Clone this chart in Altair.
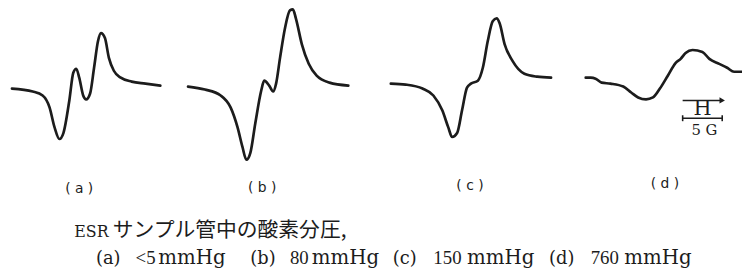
import altair as alt
import pandas as pd

# ESR spectra (field position, signal position)
a_x = [12, 33, 43, 50, 55, 60, 64, 70, 74, 77, 80, 84, 87, 91, 95, 99, 102, 106, 110, 115, 122, 133, 147, 162]
a_y = [88, 91, 95, 107, 127, 139, 133, 100, 72, 68, 77, 95, 99, 93, 67, 40, 32, 37, 57, 70, 77, 81, 83, 85]

b_x = [190, 207, 223, 233, 240, 245, 249, 253, 258, 264, 267, 272, 276, 279, 283, 288, 293, 296, 299, 305, 312, 320, 333, 352]
b_y = [86, 89, 95, 107, 127, 147, 160, 153, 123, 90, 80, 85, 91, 83, 57, 27, 9, 8, 17, 43, 63, 75, 82, 85]

c_x = [395, 410, 427, 438, 447, 453, 457, 462, 467, 472, 476, 483, 488, 493, 498, 502, 505, 510, 518, 530, 543, 557]
c_y = [83, 84, 88, 95, 110, 127, 137, 133, 110, 87, 83, 80, 67, 40, 20, 17, 22, 43, 60, 73, 76, 77]

d_x = [592, 597, 602, 608, 617, 630, 638, 645, 653, 660, 667, 675, 683, 688, 693, 700, 710, 717, 727, 735, 742, 750]
d_y = [77, 77, 78, 82, 83, 86, 92, 97, 99, 97, 88, 75, 62, 58, 52, 49, 51, 58, 63, 67, 71, 71]

panel_labels = ["( a )", "( b )", "( c )", "( d )"]
panel_x = [80, 265, 475, 672]
panel_y = [190, 189, 187, 185]

caption_head = "ESR"
caption_tail = "サンプル管中の酸素分圧,"
cond_labels = ["(a)", "(b)", "(c)", "(d)"]
cond_numbers = ["<5", "80", "150", "760"]
cond_units = ["mmHg", "mmHg", "mmHg", "mmHg"]
cond_label_x = [97, 253, 397, 555]
cond_number_x = [137, 293, 438, 597]
cond_unit_x = [160, 315, 472, 631]

scale_text = "5 G"

W, H = 742, 263
X0, Y0 = 8, 8

rows = []
for name, xs, ys in [("a", a_x, a_y), ("b", b_x, b_y), ("c", c_x, c_y), ("d", d_x, d_y)]:
    for i, (x, y) in enumerate(zip(xs, ys)):
        rows.append({"s": name, "x": x, "y": y, "o": i})
curves = pd.DataFrame(rows)

xs = alt.Scale(domain=[X0, X0 + W], nice=False, zero=False)
ys = alt.Scale(domain=[Y0, Y0 + H], reverse=True, nice=False, zero=False)
X = lambda f: alt.X(f, type="quantitative", scale=xs, axis=None)
Y = lambda f: alt.Y(f, type="quantitative", scale=ys, axis=None)

ink = "#1c1c1c"
serif = "DejaVu Serif"

lines = alt.Chart(curves).mark_line(
    color=ink, strokeWidth=2.7, interpolate="monotone", strokeCap="round", strokeJoin="round"
).encode(x=X("x"), y=Y("y"), detail="s:N", order="o:Q")

plabels = alt.Chart(pd.DataFrame({"t": panel_labels, "x": panel_x, "y": panel_y})).mark_text(
    font="DejaVu Sans", fontSize=14, color=ink, baseline="middle", align="center"
).encode(x=X("x"), y=Y("y"), text="t:N")

cap1 = alt.Chart(pd.DataFrame({"t": [caption_head], "x": [75], "y": [238]})).mark_text(
    font=serif, fontSize=16, color=ink, align="left", baseline="alphabetic"
).encode(x=X("x"), y=Y("y"), text="t:N")

cap2 = alt.Chart(pd.DataFrame({"t": [caption_tail], "x": [114], "y": [238]})).mark_text(
    font="Noto Sans CJK JP", fontSize=21, color=ink, align="left", baseline="alphabetic"
).encode(x=X("x"), y=Y("y"), text="t:N")

def row(texts, xs_, font, size):
    return alt.Chart(pd.DataFrame({"t": texts, "x": xs_, "y": [265] * len(texts)})).mark_text(
        font=font, fontSize=size, color=ink, align="left", baseline="alphabetic"
    ).encode(x=X("x"), y=Y("y"), text="t:N")

cl = row(cond_labels, cond_label_x, serif, 18)
cn = row(cond_numbers, cond_number_x, "Liberation Serif", 19)
cu = row(cond_units, cond_unit_x, serif, 20)

# scale bar
bar_df = pd.DataFrame({"x": [690, 690], "x2": [729, 730], "y": [100, 118]})
bars = alt.Chart(bar_df).mark_rule(color=ink, strokeWidth=1.6).encode(
    x=X("x"), x2="x2", y=Y("y")
)
tick_df = pd.DataFrame({"x": [690, 730], "y": [115, 115], "y2": [121, 121]})
ticks = alt.Chart(tick_df).mark_rule(color=ink, strokeWidth=1.6).encode(
    x=X("x"), y=Y("y"), y2="y2"
)
arrow = alt.Chart(pd.DataFrame({"x": [730], "y": [100]})).mark_point(
    shape="triangle-right", filled=True, color=ink, size=40, opacity=1
).encode(x=X("x"), y=Y("y"))
hlet = alt.Chart(pd.DataFrame({"t": ["H"], "x": [710], "y": [109]})).mark_text(
    font=serif, fontSize=21, color=ink, align="center", baseline="middle"
).encode(x=X("x"), y=Y("y"), text="t:N")
gtxt = alt.Chart(pd.DataFrame({"t": [scale_text], "x": [712], "y": [130]})).mark_text(
    font=serif, fontSize=15, color=ink, align="center", baseline="middle"
).encode(x=X("x"), y=Y("y"), text="t:N")

chart = alt.layer(lines, plabels, cap1, cap2, cl, cn, cu, bars, ticks, arrow, hlet, gtxt).properties(
    width=W, height=H, padding=0, background="white",
    autosize=alt.AutoSizeParams(type="none"),
).configure_view(stroke=None)

chart.save("out.html", embed_options={"renderer": "svg", "actions": False})
